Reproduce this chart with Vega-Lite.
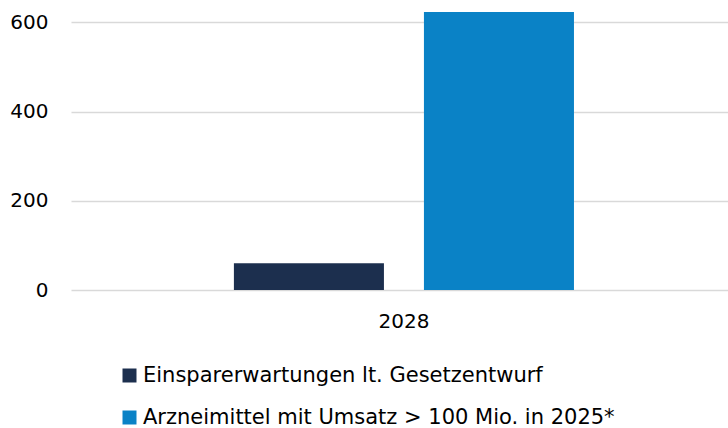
{
  "$schema": "https://vega.github.io/schema/vega-lite/v6.json",
  "autosize": {"type": "none"},
  "width": 657,
  "height": 290,
  "padding": {"left": 71, "top": 0, "right": 0, "bottom": 138},
  "background": "white",
  "config": {"font": "DejaVu Sans", "view": {"stroke": null}},
  "data": {"values": [
    {"jahr": "2028", "reihe": "Einsparerwartungen lt. Gesetzentwurf", "wert": 60},
    {"jahr": "2028", "reihe": "Arzneimittel mit Umsatz > 100 Mio. in 2025*", "wert": 623}
  ]},
  "mark": {"type": "bar"},
  "encoding": {
    "x": {
      "field": "jahr", "type": "nominal",
      "scale": {"paddingInner": 0, "paddingOuter": 0.466, "align": 0.514},
      "axis": {"title": null, "labelAngle": 0, "domain": false, "ticks": false, "labelFontSize": 20, "labelPadding": 21, "labelColor": "#000000"}
    },
    "xOffset": {
      "field": "reihe", "type": "nominal",
      "sort": ["Einsparerwartungen lt. Gesetzentwurf", "Arzneimittel mit Umsatz > 100 Mio. in 2025*"],
      "scale": {"paddingInner": 0.2105, "paddingOuter": 0}
    },
    "y": {
      "field": "wert", "type": "quantitative",
      "scale": {"domain": [0, 650], "nice": false},
      "axis": {"title": null, "values": [0, 200, 400, 600], "domain": false, "ticks": false, "labelPadding": 23, "labelFontSize": 20, "labelColor": "#000000", "gridColor": "#d9d9d9", "gridWidth": 1.5}
    },
    "color": {
      "field": "reihe", "type": "nominal",
      "sort": ["Einsparerwartungen lt. Gesetzentwurf", "Arzneimittel mit Umsatz > 100 Mio. in 2025*"],
      "scale": {"domain": ["Einsparerwartungen lt. Gesetzentwurf", "Arzneimittel mit Umsatz > 100 Mio. in 2025*"], "range": ["#1c2f4e", "#0a82c6"]},
      "legend": {
        "title": null, "orient": "none", "legendX": 48, "legendY": 365, "direction": "vertical",
        "symbolType": "square", "symbolSize": 196, "symbolStrokeWidth": 0, "symbolOpacity": 1,
        "labelFontSize": 21, "labelColor": "#000000", "labelOffset": 3, "rowPadding": 20, "labelLimit": 600
      }
    }
  }
}
